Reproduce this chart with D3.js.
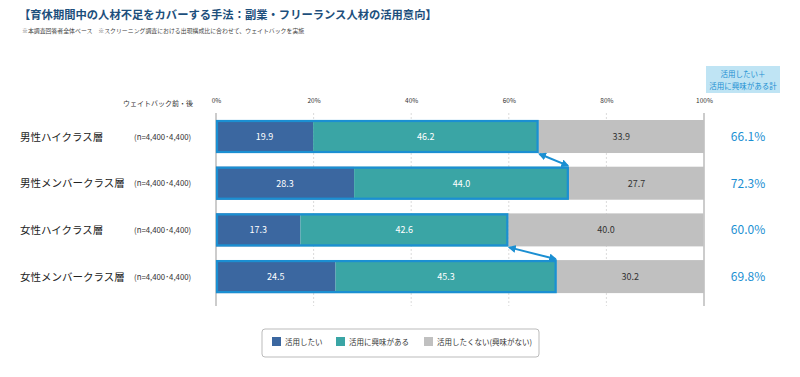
<!DOCTYPE html>
<html><head><meta charset="utf-8">
<script src="https://cdn.jsdelivr.net/npm/d3@7"></script>
<style>
body{margin:0;background:#fff;}
text{font-family:"Noto Sans CJK JP","Noto Sans",sans-serif;}
</style></head>
<body>
<svg id="c" width="800" height="377"></svg>
<script>
const categories = ["男性ハイクラス層","男性メンバークラス層","女性ハイクラス層","女性メンバークラス層"];
const nLabels = ["(n=4,400･4,400)","(n=4,400･4,400)","(n=4,400･4,400)","(n=4,400･4,400)"];
const seriesNames = ["活用したい","活用に興味がある","活用したくない(興味がない)"];
const want = [19.9, 28.3, 17.3, 24.5];
const interested = [46.2, 44.0, 42.6, 45.3];
const notWant = [33.9, 27.7, 40.0, 30.2];
const totals = [66.1, 72.3, 60.0, 69.8];
const ticks = [0,20,40,60,80,100];
const colors = ["#3b67a0","#3aa5a5","#c0c0c0"];
const accent = "#1b8fd2";

const svg = d3.select("#c");
const x = d3.scaleLinear().domain([0,100]).range([216,704]);
const y = d3.scaleBand().domain(categories).range([113,300.1]).paddingInner(0.293).paddingOuter(0.15);

// title
svg.append("text").attr("x",19).attr("y",19).attr("font-size",11.3).attr("font-weight","bold")
  .attr("fill","#1d4f7c").text("【育休期間中の人材不足をカバーする手法：副業・フリーランス人材の活用意向】");
svg.append("text").attr("x",22).attr("y",33).attr("font-size",5.9).attr("fill","#444")
  .text("※本調査回答者全体ベース　※スクリーニング調査における出現構成比に合わせて、ウェイトバックを実施");

// gridlines
svg.append("g").selectAll("line").data(ticks.filter(t=>t>0&&t<100)).join("line")
  .attr("x1",d=>x(d)).attr("x2",d=>x(d)).attr("y1",113).attr("y2",306)
  .attr("stroke","#ccc").attr("stroke-dasharray","2,2").attr("stroke-width",0.7);
svg.append("g").selectAll("line").data([0,100]).join("line")
  .attr("x1",d=>x(d)).attr("x2",d=>x(d)).attr("y1",113).attr("y2",306)
  .attr("stroke","#999").attr("stroke-width",1);

// tick labels
const axis = d3.axisTop(x).tickValues(ticks).tickFormat(d=>d+"%").tickSize(0);
const ag = svg.append("g").attr("transform","translate(0,106)").call(axis);
ag.select(".domain").remove();
ag.selectAll("text").attr("font-size",6.5).attr("fill","#333").attr("font-family","'Noto Sans CJK JP',sans-serif");
svg.append("text").attr("x",193).attr("y",106).attr("text-anchor","end").attr("font-size",7).attr("fill","#333").text("ウェイトバック前・後");

// bars
const rows = categories.map((c,i)=>({c, vals:[want[i],interested[i],notWant[i]], total:totals[i], n:nLabels[i]}));
const rowG = svg.append("g").selectAll("g").data(rows).join("g");
rowG.each(function(d){
  const g = d3.select(this);
  let cum = 0;
  d.vals.forEach((v,k)=>{
    const x0 = x(cum), x1 = x(cum+v);
    g.append("rect").attr("x",x0).attr("y",y(d.c)).attr("width",x1-x0).attr("height",y.bandwidth()).attr("fill",colors[k]);
    g.append("text").attr("x",(x0+x1)/2).attr("y",y(d.c)+y.bandwidth()/2+3.5).attr("text-anchor","middle")
      .attr("font-size",9).attr("fill",k<2?"#fff":"#333").text(v.toFixed(1));
    cum += v;
  });
  g.append("rect").attr("x",x(0)+1).attr("y",y(d.c)+1).attr("width",x(d.vals[0]+d.vals[1])-x(0)-2).attr("height",y.bandwidth()-2)
    .attr("fill","none").attr("stroke",accent).attr("stroke-width",2.2);
  g.append("text").attr("x",20).attr("y",y(d.c)+y.bandwidth()/2+4).attr("font-size",10.5).attr("fill","#222").text(d.c);
  g.append("text").attr("x",134).attr("y",y(d.c)+y.bandwidth()/2+3).attr("font-size",7.8).attr("fill","#333").text(d.n);
  g.append("text").attr("x",748).attr("y",y(d.c)+y.bandwidth()/2+4.5).attr("text-anchor","middle").attr("font-size",12).attr("fill",accent).text(d.total.toFixed(1)+"%");
});

// arrows between pairs
const defs = svg.append("defs");
defs.append("marker").attr("id","ah").attr("viewBox","0 0 10 10").attr("refX",8).attr("refY",5)
  .attr("markerWidth",4).attr("markerHeight",4).attr("orient","auto-start-reverse")
  .append("path").attr("d","M0,0L10,5L0,10z").attr("fill",accent);
[[0,1],[2,3]].forEach(([a,b])=>{
  const ra = rows[a], rb = rows[b];
  svg.append("line")
    .attr("x1",x(ra.vals[0]+ra.vals[1])+1).attr("y1",y(ra.c)+y.bandwidth()+1)
    .attr("x2",x(rb.vals[0]+rb.vals[1])-1).attr("y2",y(rb.c)-1)
    .attr("stroke",accent).attr("stroke-width",2)
    .attr("marker-start","url(#ah)").attr("marker-end","url(#ah)");
});

// header box
svg.append("rect").attr("x",706).attr("y",66).attr("width",74).attr("height",27).attr("fill","#bfe4f4");
svg.append("text").attr("x",743).attr("y",77).attr("text-anchor","middle").attr("font-size",7.5).attr("fill","#1b8fd2").text("活用したい＋");
svg.append("text").attr("x",743).attr("y",89).attr("text-anchor","middle").attr("font-size",7.5).attr("fill","#1b8fd2").text("活用に興味がある計");

// legend
svg.append("rect").attr("x",262).attr("y",329).attr("width",277).attr("height",28).attr("rx",3)
  .attr("fill","#fff").attr("stroke","#bbb");
const lx = [272,336,424];
const lg = svg.append("g").selectAll("g").data(seriesNames).join("g").attr("transform",(d,i)=>`translate(${lx[i]},337)`);
lg.append("rect").attr("width",9).attr("height",9).attr("fill",(d,i)=>colors[i]);
lg.append("text").attr("x",13).attr("y",8).attr("font-size",7.5).attr("fill","#333").text(d=>d);
</script>
</body></html>
